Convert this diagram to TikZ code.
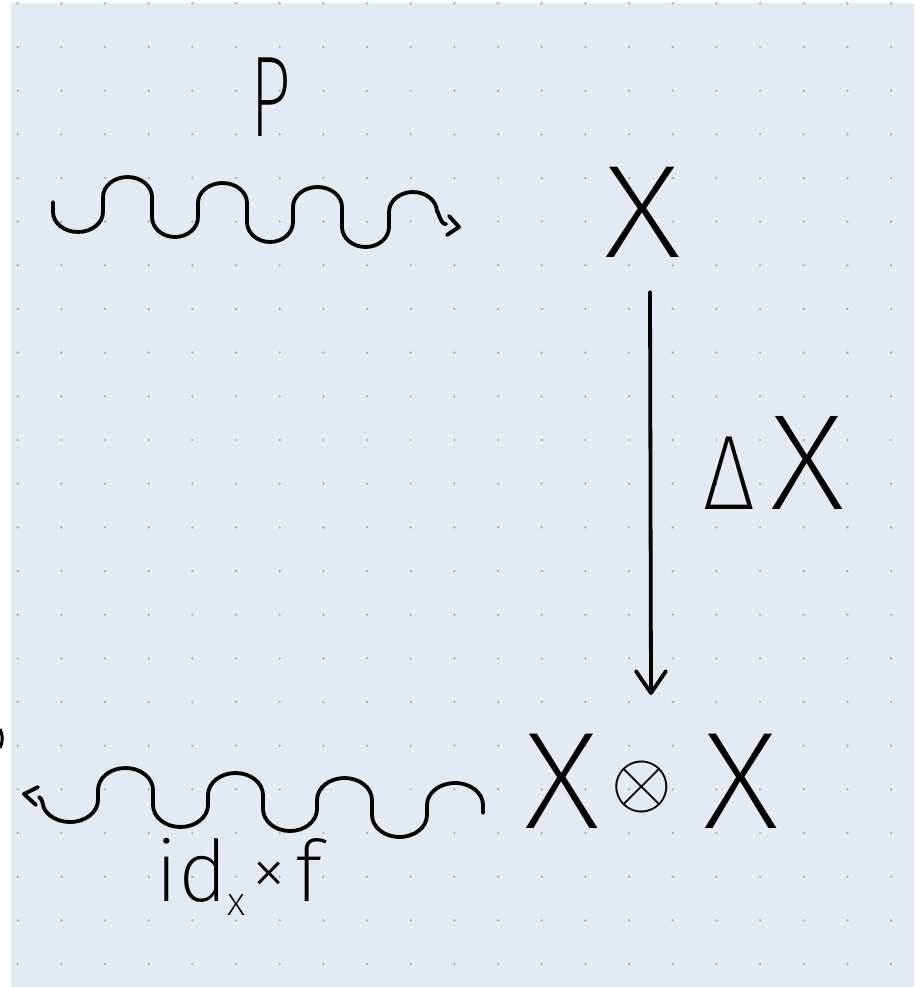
\documentclass[tikz,border=0pt]{standalone}
\usepackage{fontspec}
\usepackage{graphicx}
\newfontfamily\hand{Fira Sans ExtraLight}
\usetikzlibrary{arrows.meta}
\definecolor{paper}{RGB}{227,234,243}
\definecolor{griddot}{RGB}{165,170,176}
\begin{document}
\begin{tikzpicture}[x=1pt,y=-1pt,
  ink/.style={line width=3.8pt, line cap=round, line join=round, draw=black},
  lab/.style={inner sep=0pt, outer sep=0pt, font=\hand, text=black},
  barb/.style={-{Straight Barb[length=22pt,width=30pt,round]}}]
\useasboundingbox (0,0) rectangle (914,987);
\fill[white] (0,0) rectangle (914,987);
\fill[paper] (11,3) rectangle (914,987);
\foreach \i in {0,...,20}{\foreach \j in {0,...,22}{\fill[griddot] ({17.7+43.67*\i},{3.3+43.67*\j}) circle (1.3);}}
% fragment at left edge
\draw[line width=3pt] (0,729) .. controls (3,735) and (3,742) .. (0,748);
% labels
\node[lab] (P) at (271,97) {\fontsize{115}{115}\selectfont\scalebox{0.62}[1]{P}};
\node[lab] (X) at (643,212) {\fontsize{132}{132}\selectfont\scalebox{1.15}[1]{X}};
\node[lab] (DX) at (774,463) {\fontsize{136}{136}\selectfont{\fontsize{106}{106}\selectfont\scalebox{0.85}[1]{Δ}}\kern16pt\scalebox{1.08}[1]{X}};
\node[lab] (XX) at (652,781) {\fontsize{138}{138}\selectfont\scalebox{1.08}[1]{X}\kern11pt\raisebox{22pt}{\fontsize{10}{10}\selectfont\scalebox{7.8}{$\otimes$}}\kern32pt\scalebox{1.08}[1]{X}};
\node[lab] (idf) at (239,877) {\fontsize{85}{85}\selectfont id\raisebox{-14pt}{\fontsize{40}{40}\selectfont x}\kern6pt\raisebox{6pt}{\fontsize{72}{72}\selectfont ×}\kern8pt f};
% top wave (P)
\coordinate (w1a) at (53,202);
\coordinate (t1) at (459,227);
\draw[ink] (w1a) -- (53,212) arc[start angle=180,end angle=0,x radius=25,y radius=20]
  -- (103,197) arc[start angle=180,end angle=360,x radius=24.5,y radius=20]
  -- (152,217) arc[start angle=180,end angle=0,x radius=23,y radius=20]
  -- (198,203) arc[start angle=180,end angle=360,x radius=24.5,y radius=20]
  -- (247,222) arc[start angle=180,end angle=0,x radius=23,y radius=20]
  -- (293,207) arc[start angle=180,end angle=360,x radius=24.5,y radius=20]
  -- (342,227) arc[start angle=180,end angle=0,x radius=23.5,y radius=20]
  -- (389,212) arc[start angle=180,end angle=360,x radius=24,y radius=20]
  to[out=90,in=200] (446,224);
\draw[ink] ([shift={(-10,-11)}]t1) -- (t1) -- ([shift={(-12,8)}]t1);
% vertical arrow (Delta X)
\coordinate (a1) at (650,292);
\coordinate (a2) at (651,695);
\draw[ink, barb] (a1) -- (a2);
% bottom wave (id x f)
\coordinate (w2a) at (483,813);
\coordinate (t2) at (24,794);
\draw[ink] (w2a) -- (483,805) arc[start angle=0,end angle=-180,x radius=28,y radius=22]
  -- (427,815) arc[start angle=0,end angle=180,x radius=27.5,y radius=22]
  -- (372,800) arc[start angle=0,end angle=-180,x radius=27.5,y radius=22]
  -- (317,809) arc[start angle=0,end angle=180,x radius=27,y radius=22]
  -- (263,795) arc[start angle=0,end angle=-180,x radius=27.5,y radius=22]
  -- (208,805) arc[start angle=0,end angle=180,x radius=27.5,y radius=22]
  -- (153,790) arc[start angle=0,end angle=-180,x radius=27.5,y radius=22]
  -- (98,800) arc[start angle=0,end angle=160,x radius=28,y radius=22]
  to[out=110,in=-30] (39,797);
\draw[ink] ([shift={(14,-7)}]t2) -- (t2) -- ([shift={(12,11)}]t2);
\end{tikzpicture}
\end{document}
